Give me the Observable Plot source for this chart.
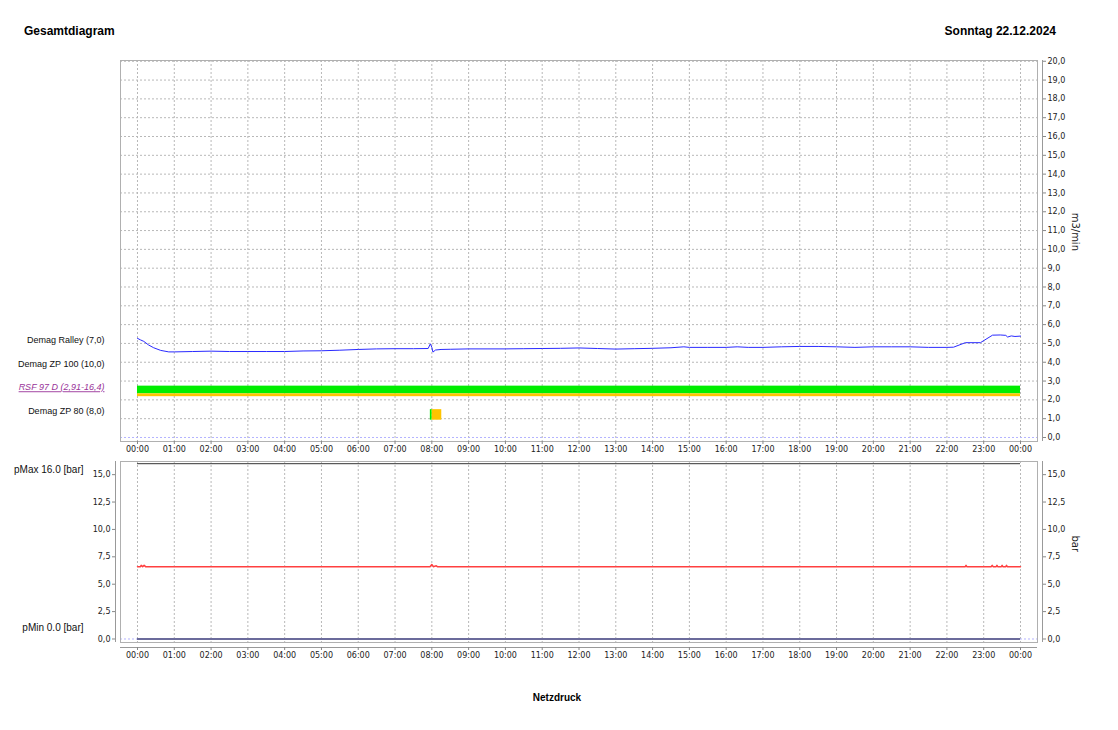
<!DOCTYPE html>
<html><head><meta charset="utf-8">
<script src="https://cdn.jsdelivr.net/npm/d3@7"></script>
<script src="https://cdn.jsdelivr.net/npm/@observablehq/plot@0.6"></script>
<style>
body{margin:0;background:#fff;}
#wrap{position:relative;width:1118px;height:730px;font-family:"Liberation Sans",Arial,sans-serif;overflow:hidden}
.t{position:absolute;font-weight:bold;font-size:12px;color:#000;white-space:nowrap;line-height:14px}
#chart1,#chart2{position:absolute;left:0}
</style></head><body>
<div id="wrap">
<div id="chart1" style="top:0"></div>
<div id="chart2" style="top:455px"></div>
<div class="t" style="left:24px;top:24px">Gesamtdiagram</div>
<div class="t" style="right:62px;top:24px">Sonntag 22.12.2024</div>
<div class="t" style="left:0;width:1114px;text-align:center;top:691px;font-size:10px">Netzdruck</div>
</div>
<script>
// ---- data ----
const hourTicks = d3.range(0, 25);
const flowTicks = d3.range(0, 21);
const pressTicks = [0, 2.5, 5, 7.5, 10, 12.5, 15];

const flowHours = [0.00,0.08,0.17,0.30,0.44,0.63,0.85,1.00,1.50,2.00,2.50,3.00,3.50,4.00,4.50,5.00,5.50,6.00,6.50,7.00,7.50,7.90,7.96,8.00,8.03,8.10,8.25,8.50,9.00,9.50,10.00,10.50,11.00,11.50,12.00,12.50,13.00,13.50,14.00,14.50,14.85,15.00,15.50,16.00,16.30,16.60,17.00,17.50,18.00,18.50,19.00,19.50,20.00,20.50,21.00,21.50,22.00,22.18,22.50,22.91,23.24,23.45,23.60,23.65,23.75,23.85,24.00];
const flowValues = [5.27,5.19,5.11,4.92,4.77,4.63,4.55,4.55,4.57,4.59,4.57,4.57,4.57,4.57,4.60,4.61,4.64,4.68,4.71,4.72,4.72,4.73,4.98,4.79,4.54,4.65,4.68,4.69,4.71,4.71,4.71,4.72,4.73,4.74,4.76,4.73,4.70,4.72,4.74,4.77,4.82,4.79,4.79,4.79,4.82,4.79,4.79,4.82,4.84,4.84,4.82,4.79,4.82,4.82,4.82,4.79,4.79,4.80,5.04,5.04,5.44,5.45,5.43,5.34,5.40,5.37,5.39];

const pressHours = [0,0.08,0.10,0.14,0.18,0.22,7.95,8.00,8.04,8.12,8.15,22.50,22.52,22.54,23.20,23.23,23.26,23.34,23.36,23.38,23.48,23.50,23.52,23.60,23.62,23.64,24];
const pressValues = [6.6,6.6,6.72,6.6,6.72,6.6,6.6,6.8,6.6,6.68,6.6,6.6,6.72,6.6,6.6,6.72,6.6,6.6,6.72,6.6,6.6,6.72,6.6,6.6,6.72,6.6,6.6];

const limitNames = ["pMax", "pMin"];
const limitValues = [16.0, 0.0];

const laneNames = ["Demag Ralley (7,0)", "Demag ZP 100 (10,0)", "RSF 97 D (2,91-16,4)", "Demag ZP 80 (8,0)"];
const statusLane  = [2, 2, 3, 3];
const statusStart = [0, 0, 7.96, 8.01];
const statusEnd   = [24, 24, 8.01, 8.27];
const statusState = ["Last", "Leerlauf", "Last", "Leerlauf"];
const statusPart  = ["main", "sub", "full", "full"];

// ---- layout helpers ----
const stateColor = {Last: "#00ee00", Leerlauf: "#ffc400"};
const fmtHour = h => String(h % 24).padStart(2, "0") + ":00";
const fmtDec = d => d.toFixed(1).replace(".", ",");
const pad = 0.462;
const xDomain = [-pad, 24 + pad];
const laneCenter = i => 4.95 - 1.25 * i;
const laneHalf = 0.28, stripH = 0.15;

const flow = flowHours.map((h, i) => ({h, v: flowValues[i]}));
const press = pressHours.map((h, i) => ({h, v: pressValues[i]}));
const segs = statusLane.map((lane, i) => {
  const c = laneCenter(lane);
  let y1 = c - laneHalf, y2 = c + laneHalf;
  if (statusPart[i] === "main") y1 = c - laneHalf + stripH;
  if (statusPart[i] === "sub") y2 = c - laneHalf + stripH;
  return {x1: statusStart[i], x2: statusEnd[i], y1, y2, state: statusState[i]};
});
const lanes = laneNames.map((name, i) => ({name, i, c: laneCenter(i)}));
const limits = limitNames.map((n, i) => ({label: `${n} ${limitValues[i].toFixed(1)} [bar]`, v: limitValues[i]}));

const gridOpts = {stroke: "#b8b8b8", strokeOpacity: 1, strokeDasharray: "2,2"};
const baseStyle = {fontFamily: "'DejaVu Sans', sans-serif", fontSize: "8px", color: "#333", background: "transparent", overflow: "visible"};

const chart1 = Plot.plot({
  width: 1118, height: 460,
  marginLeft: 120, marginRight: 81, marginTop: 60, marginBottom: 19,
  style: baseStyle,
  x: {domain: xDomain},
  y: {domain: [-0.2128, 20.04]},
  marks: [
    Plot.gridX(hourTicks, gridOpts),
    Plot.gridY(d3.range(1, 21), gridOpts),
    Plot.ruleY([0], {stroke: "#b4b4ff", strokeDasharray: "2,2"}),
    Plot.frame({stroke: "#b0b0b0"}),
    Plot.rect(segs, {x1: "x1", x2: "x2", y1: "y1", y2: "y2", fill: d => stateColor[d.state]}),
    Plot.line(flow, {x: "h", y: "v", stroke: "#2a2aff", strokeWidth: 1}),
    Plot.axisX(hourTicks, {tickFormat: fmtHour, tickSize: 3, tickPadding: 2, label: null, stroke: "#888", fill: "#222"}),
    Plot.axisY(flowTicks, {anchor: "right", dx: 5, tickSize: 3, tickPadding: 2, tickFormat: fmtDec, label: null, stroke: "#888", fill: "#222"}),
    Plot.ruleX([24 + pad], {dx: 5, stroke: "#999"}),
    Plot.text(["m3/min"], {text: d => d, frameAnchor: "right", dx: 38, rotate: 90, fontSize: 10, fill: "#222"}),
    Plot.text(lanes.filter(d => d.i !== 2), {y: "c", text: "name", frameAnchor: "left", dx: -16, dy: -4, textAnchor: "end", fontFamily: "'Liberation Sans', Arial, sans-serif", fontSize: 9, fill: "#111"}),
    Plot.text(lanes.filter(d => d.i === 2), {y: "c", text: "name", frameAnchor: "left", dx: -16, dy: -4, textAnchor: "end", fontFamily: "'Liberation Sans', Arial, sans-serif", fontSize: 9, fontStyle: "italic", fill: "#993399"})
  ]
});
d3.select(chart1).selectAll("text").filter(function() { return this.textContent.startsWith("RSF"); })
  .style("text-decoration", "underline");
document.getElementById("chart1").appendChild(chart1);

const chart2 = Plot.plot({
  width: 1118, height: 275,
  marginLeft: 120, marginRight: 81, marginTop: 6, marginBottom: 88,
  style: baseStyle,
  x: {domain: xDomain},
  y: {domain: [-0.32, 16.2]},
  marks: [
    Plot.gridX(hourTicks, gridOpts),
    Plot.ruleY([0], {stroke: "#b4b4ff", strokeDasharray: "2,2"}),
    Plot.frame({stroke: "#b0b0b0"}),
    Plot.ruleY([limitValues[1]], {x1: 0, x2: 24, stroke: "#6b6b9b", strokeWidth: 2}),
    Plot.ruleY([limitValues[0]], {x1: 0, x2: 24, stroke: "#333", strokeWidth: 1}),
    Plot.line(press, {x: "h", y: "v", stroke: "#ff4040", strokeWidth: 1.5}),
    Plot.ruleY([-0.32], {dy: 5, stroke: "#999"}),
    Plot.axisX(hourTicks, {dy: 5, tickFormat: fmtHour, tickSize: 3, tickPadding: 2, label: null, stroke: "#888", fill: "#222"}),
    Plot.axisY(pressTicks, {anchor: "left", dx: -5, tickSize: 3, tickPadding: 2, tickFormat: fmtDec, label: null, stroke: "#888", fill: "#222"}),
    Plot.ruleX([-pad], {dx: -5, stroke: "#999"}),
    Plot.axisY(pressTicks, {anchor: "right", dx: 5, tickSize: 3, tickPadding: 2, tickFormat: fmtDec, label: null, stroke: "#888", fill: "#222"}),
    Plot.ruleX([24 + pad], {dx: 5, stroke: "#999"}),
    Plot.text(["bar"], {text: d => d, frameAnchor: "right", dx: 38, rotate: 90, fontSize: 10, fill: "#222"}),
    Plot.text(limits.filter(d => d.v > 0), {y: "v", text: "label", frameAnchor: "left", dx: -37, dy: 6, textAnchor: "end", fontFamily: "'Liberation Sans', Arial, sans-serif", fontSize: 10, fill: "#111"}),
    Plot.text(limits.filter(d => d.v === 0), {y: "v", text: "label", frameAnchor: "left", dx: -37, dy: -11, textAnchor: "end", fontFamily: "'Liberation Sans', Arial, sans-serif", fontSize: 10, fill: "#111"})
  ]
});
document.getElementById("chart2").appendChild(chart2);
</script>
</body></html>
